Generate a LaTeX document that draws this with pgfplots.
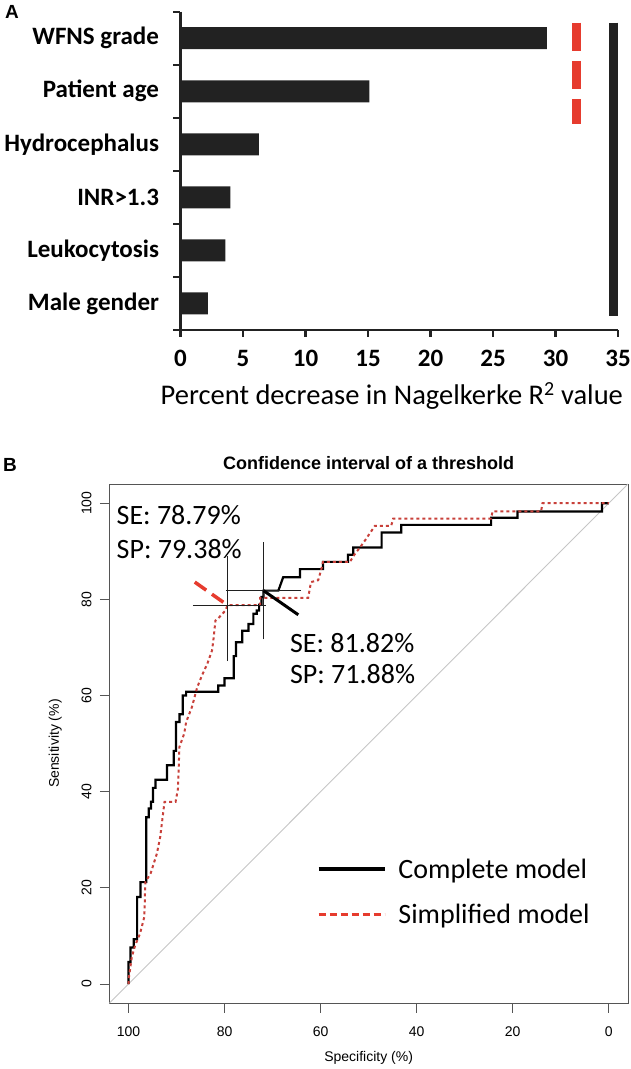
\documentclass[border=0pt]{standalone}
\usepackage{fontspec}
\setmainfont{Carlito}
\newfontfamily\arial{Liberation Sans}
\usepackage{pgfplots}
\pgfplotsset{compat=1.18}
\definecolor{barc}{HTML}{222222}
\definecolor{redA}{HTML}{E63B2E}
\definecolor{roc}{HTML}{C8403A}
\definecolor{frame}{HTML}{555555}

\begin{document}
\begin{tikzpicture}
\useasboundingbox (0,0) rectangle (630pt,1069pt);

\node[font=\arial\bfseries\fontsize{19}{22}\selectfont] at (12pt,1057pt) {A};
\node[font=\arial\bfseries\fontsize{19}{22}\selectfont] at (10pt,604pt) {B};

% panel A
\begin{axis}[
  at={(180.5pt,739pt)}, anchor=south west,
  width=437.5pt, height=318.3pt, scale only axis, clip=false,
  xmin=0, xmax=35, ymin=0.5, ymax=6.5, y dir=reverse,
  axis x line*=bottom, axis y line*=left,
  axis line style={line width=2.6pt, barc, -},
  tick align=outside, major tick length=7pt,
  tick style={line width=2.2pt, barc},
  xtick={0,5,...,35},
  ytick={0.5,1.5,...,6.5}, yticklabels={},
  extra y ticks={1,2,3,4,5,6},
  extra y tick labels={WFNS grade, Patient age, Hydrocephalus, INR>1.3, Leukocytosis, Male gender},
  extra y tick style={major tick length=0pt,
    yticklabel style={font=\bfseries\fontsize{25}{28}\selectfont, xshift=-18pt}},
  xticklabel style={font=\bfseries\fontsize{25}{28}\selectfont, yshift=-10pt},
  /pgf/number format/assume math mode=true,
  xlabel={Percent decrease in Nagelkerke R\textsuperscript{2} value},
  xlabel style={font=\fontsize{28.5}{30}\selectfont, at={(axis description cs:0.483,-0.207)}, anchor=center},
]
\addplot[xbar, bar width=22pt, fill=barc, draw=none] coordinates {
  (29.3,1) (15.1,2) (6.27,3) (4.0,4) (3.6,5) (2.2,6)};
\addplot[redA, line width=9.3pt, dash pattern=on 28.5pt off 9.7pt] coordinates {(31.66,0.707) (31.66,2.617)};
\addplot[barc, line width=9.3pt] coordinates {(34.65,0.707) (34.65,6.23)};
\end{axis}

% panel B
\begin{axis}[
  at={(109.3pt,65.7pt)}, anchor=south west,
  width=518.7pt, height=519.3pt, scale only axis,
  xmin=-4, xmax=104, ymin=-4, ymax=104, x dir=reverse,
  axis line style={frame, line width=0.9pt},
  xtick={0,20,...,100}, ytick={0,20,...,100},
  tick pos=left, tick align=outside, major tick length=9.5pt,
  tick style={frame, line width=0.9pt},
  tick label style={font=\arial\fontsize{14}{16}\selectfont},
  /pgf/number format/assume math mode=true,
  xticklabel style={yshift=-10pt},
  yticklabel style={rotate=90, anchor=south, inner sep=0pt, yshift=8pt},
  title={\bfseries Confidence interval of a threshold},
  title style={font=\arial\fontsize{18}{20}\selectfont, at={(axis description cs:0.5,1.029)}, anchor=center},
  xlabel={Specificity (\%)},
  xlabel style={font=\arial\fontsize{14}{16}\selectfont, at={(axis description cs:0.5,-0.106)}, anchor=center},
  ylabel={Sensitivity (\%)},
  ylabel style={font=\arial\fontsize{14}{16}\selectfont, at={(axis description cs:-0.104,0.5)}, anchor=center},
  legend image code/.code={\draw (0pt,0pt) -- (66pt,0pt); \path (76pt,0pt);},
  legend style={draw=none, fill=none, at={(0.4,0.215)}, anchor=west,
    font=\fontsize{28}{30}\selectfont, row sep=20pt, inner sep=0pt,
    cells={anchor=west}},
]
\addplot[gray!45, line width=0.9pt, forget plot] coordinates {(104,-4) (-4,104)};

% complete model
\addplot[black, line width=2.2pt, forget plot] coordinates {
  (100,0) (100,4.6) (99.6,4.6) (99.6,7.6) (98.9,7.6) (98.9,9.3) (98.2,9.3)
  (98.2,18.1) (97.5,18.1) (97.5,21.2) (96.3,21.2) (96.3,34.7) (95.8,34.7)
  (95.8,36.5) (95.3,36.5) (95.3,37.9) (94.9,37.9) (94.9,40.8) (94.4,40.8)
  (94.4,42.5) (92.0,42.5) (92.0,45.5) (90.6,45.5) (90.6,48.5) (90.1,48.5)
  (90.1,54.5) (89.4,54.5) (89.4,56.1) (88.7,56.1) (88.7,60.0) (88.0,60.0)
  (88.0,60.8) (81.3,60.8) (81.3,62.1) (80.0,62.1) (80.0,63.6) (78.1,63.6)
  (78.1,68.2) (77.6,68.2) (77.6,71.1) (76.3,71.1) (76.3,73.5) (75.0,73.5)
  (75.0,74.9) (74.0,74.9) (74.0,77.0) (73.3,77.0) (73.3,77.7) (72.8,77.7)
  (72.8,78.9) (72.3,78.9) (72.3,80.5) (71.88,80.5) (71.88,81.82)
  (68.8,81.82) (68.3,83.2) (67.8,84.6) (64.3,84.6) (64.3,86.3) (59.5,86.3)
  (59.5,87.8) (54.3,87.8) (54.3,89.3) (53.2,89.3) (53.2,90.8) (47.3,90.8)
  (47.3,93.9) (43.2,93.9) (43.2,95.5) (24.5,95.5) (24.5,97.0) (19.0,97.0)
  (19.0,98.3) (1.4,98.3) (1.4,100) (0,100)};

% simplified model
\addplot[roc, line width=2pt, dash pattern=on 3pt off 3pt, forget plot] coordinates {
  (100,0) (99.9,1.5) (99.3,5.7) (98.6,8.1) (97.6,10.5) (96.7,14.0) (96.5,21.2)
  (95.4,23.0) (94.1,27.1) (93.4,30.6) (92.5,37.9) (90.2,37.9) (89.7,40.6)
  (89.4,49.3) (88.4,52.1) (88.0,54.5) (86.8,57.6) (85.7,61.7) (84.7,64.2)
  (83.6,66.6) (82.6,69.4) (82.3,71.8) (81.9,75.6) (81.2,76.2) (79.8,77.7)
  (79.38,78.79) (72.6,78.79) (72.6,80.3) (62.6,80.3) (62.0,83.6) (60.5,84.0)
  (59.8,86.5) (59.5,87.8) (53.9,87.8) (52.9,89.4) (51.8,90.8) (50.8,92.2)
  (48.7,95.3) (45.3,95.3) (44.9,96.8) (24.5,96.8) (24.2,98.3) (14.1,98.3)
  (13.8,100) (0,100)};

% confidence intervals of the thresholds
\addplot[draw=none, forget plot,
  error bars/.cd, x dir=both, x explicit, y dir=both, y explicit,
  error bar style={draw=gray!25!black, line width=0.9pt},
  error mark options={draw=gray!25!black, line width=0.9pt, mark size=5pt}]
  coordinates {
  (79.38,78.79) += (6.2,9.1) -= (6.9,10.6)
  (71.88,81.82) += (6.8,9.0) -= (6.8,9.1)};

\addplot[black, line width=3pt, forget plot] coordinates {(71.88,81.82) (64.65,76.8)};
\addplot[redA, line width=3.5pt, dash pattern=on 14pt off 7pt, forget plot] coordinates {(86.2,83.6) (79.38,78.79)};

\node[anchor=west, align=left, inner sep=0pt, font=\fontsize{28}{34}\selectfont]
  at (axis cs:102.5,94.1) {SE: 78.79\%\\SP: 79.38\%};
\node[anchor=west, align=left, inner sep=0pt, font=\fontsize{28}{31}\selectfont]
  at (axis cs:66.4,67.8) {SE: 81.82\%\\SP: 71.88\%};

\addlegendimage{black, line width=3.5pt}
\addlegendentry{Complete model}
\addlegendimage{redA, line width=3pt, dash pattern=on 7pt off 4pt}
\addlegendentry{Simplified model}
\end{axis}
\end{tikzpicture}
\end{document}
